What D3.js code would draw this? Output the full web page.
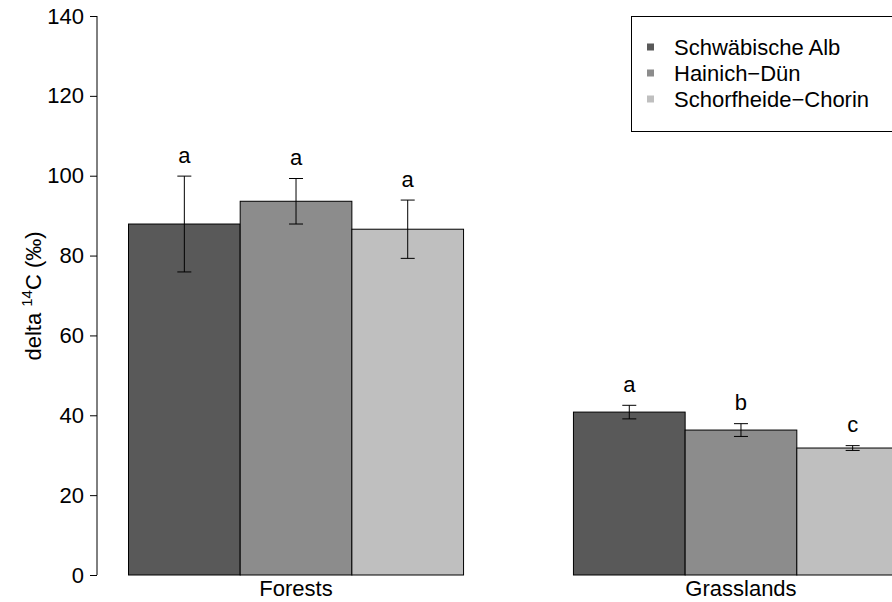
<!DOCTYPE html>
<html>
<head>
<meta charset="utf-8">
<script src="https://cdn.jsdelivr.net/npm/d3@7"></script>
<style>
  html, body { margin: 0; padding: 0; background: #fff; }
  svg { display: block; font-family: "Liberation Sans", Arial, Helvetica, sans-serif; }
</style>
</head>
<body>
<svg id="chart" width="892" height="602"></svg>
<script>
// ---- data ----
const groups = ["Forests", "Grasslands"];
const series = ["Schwäbische Alb", "Hainich−Dün", "Schorfheide−Chorin"];
const colors = ["#595959", "#8c8c8c", "#bfbfbf"];
const forestMeans = [87.9, 93.6, 86.6];
const forestErrors = [12.0, 5.7, 7.3];
const forestLetters = ["a", "a", "a"];
const grassMeans = [40.8, 36.3, 31.8];
const grassErrors = [1.7, 1.6, 0.6];
const grassLetters = ["a", "b", "c"];
const yTicks = [0, 20, 40, 60, 80, 100, 120, 140];

const data = [
  { group: "Forests", means: forestMeans, errors: forestErrors, letters: forestLetters },
  { group: "Grasslands", means: grassMeans, errors: grassErrors, letters: grassLetters }
];

const FS = 22;
const svg = d3.select("#chart");

const y = d3.scaleLinear().domain([0, 140]).range([575, 16]);
const x0 = d3.scaleBand().domain(groups).range([128.5, 908.5]).paddingInner(0.247).paddingOuter(0);
const x1 = d3.scaleBand().domain(series).range([0, x0.bandwidth()]).padding(0);

// y axis
const yAxis = d3.axisLeft(y).tickValues(yTicks).tickSize(7).tickPadding(6).tickFormat(d3.format("d"));
const gy = svg.append("g").attr("transform", "translate(97,0)").call(yAxis);
gy.attr("font-size", FS).attr("font-family", "Liberation Sans, Arial, sans-serif");
gy.select(".domain").attr("d", `M0,${y(0)}V${y(140)}`).attr("stroke", "#000");
gy.selectAll(".tick line").attr("stroke", "#000");
gy.selectAll(".tick text").attr("font-size", FS).attr("fill", "#000");

// y label
svg.append("text")
  .attr("transform", `translate(41,296) rotate(-90)`)
  .attr("text-anchor", "middle")
  .attr("font-size", FS)
  .attr("fill", "#000")
  .call(t => {
    t.append("tspan").text("delta ");
    t.append("tspan").attr("font-size", 15).attr("dy", -9).text("14");
    t.append("tspan").attr("dy", 9).text("C (‰)");
  });

// bars
const g = svg.append("g");
data.forEach(dg => {
  const gx = x0(dg.group);
  series.forEach((s, i) => {
    const bx = gx + x1(s);
    g.append("rect")
      .attr("x", bx)
      .attr("y", y(dg.means[i]))
      .attr("width", x1.bandwidth())
      .attr("height", y(0) - y(dg.means[i]))
      .attr("fill", colors[i])
      .attr("stroke", "#000")
      .attr("stroke-width", 1);
  });
  series.forEach((s, i) => {
    const cx = gx + x1(s) + x1.bandwidth() / 2;
    const top = dg.means[i] + dg.errors[i];
    const bot = dg.means[i] - dg.errors[i];
    g.append("line").attr("x1", cx).attr("x2", cx).attr("y1", y(top)).attr("y2", y(bot)).attr("stroke", "#000");
    g.append("line").attr("x1", cx - 7).attr("x2", cx + 7).attr("y1", y(top)).attr("y2", y(top)).attr("stroke", "#000");
    g.append("line").attr("x1", cx - 7).attr("x2", cx + 7).attr("y1", y(bot)).attr("y2", y(bot)).attr("stroke", "#000");
    g.append("text")
      .attr("x", cx)
      .attr("y", y(top + 5))
      .attr("dy", "0.3em")
      .attr("text-anchor", "middle")
      .attr("font-size", FS)
      .attr("fill", "#000")
      .text(dg.letters[i]);
  });
  g.append("text")
    .attr("x", gx + x0.bandwidth() / 2)
    .attr("y", 596)
    .attr("text-anchor", "middle")
    .attr("font-size", FS)
    .attr("fill", "#000")
    .text(dg.group);
});

// legend
const lg = svg.append("g");
lg.append("rect").attr("x", 631.5).attr("y", 16.5).attr("width", 300).attr("height", 115)
  .attr("fill", "#fff").attr("stroke", "#000");
series.forEach((s, i) => {
  const ly = 47 + i * 26;
  lg.append("rect").attr("x", 647).attr("y", ly - 3.5).attr("width", 7).attr("height", 7).attr("fill", colors[i]);
  lg.append("text").attr("x", 674).attr("y", ly).attr("dy", "0.35em")
    .attr("font-size", FS).attr("fill", "#000").text(s);
});
</script>
</body>
</html>
